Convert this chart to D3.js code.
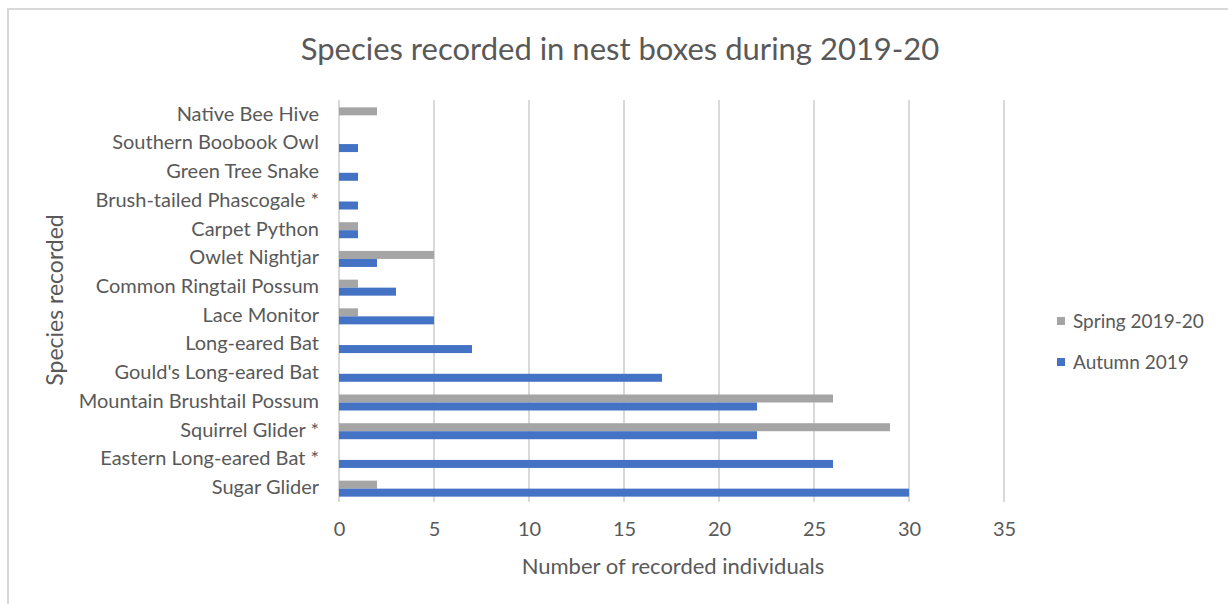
<!DOCTYPE html>
<html>
<head>
<meta charset="utf-8">
<script src="https://cdn.jsdelivr.net/npm/d3@7"></script>
<style>
  html, body { margin: 0; padding: 0; background: #fff; }
  svg { display: block; }
  text { font-family: Lato, "Open Sans", sans-serif; fill: #595959; }
</style>
</head>
<body>
<svg id="chart" width="1228" height="604"></svg>
<script>
// Species, listed top to bottom as they appear on the chart
const species = [
  "Native Bee Hive",
  "Southern Boobook Owl",
  "Green Tree Snake",
  "Brush-tailed Phascogale *",
  "Carpet Python",
  "Owlet Nightjar",
  "Common Ringtail Possum",
  "Lace Monitor",
  "Long-eared Bat",
  "Gould's Long-eared Bat",
  "Mountain Brushtail Possum",
  "Squirrel Glider *",
  "Eastern Long-eared Bat *",
  "Sugar Glider"
];
const spring = [2, 0, 0, 0, 1, 5, 1, 1, 0, 0, 26, 29, 0, 2];
const autumn = [0, 1, 1, 1, 1, 2, 3, 5, 7, 17, 22, 22, 26, 30];
const seriesNames = ["Spring 2019-20", "Autumn 2019"];
const seriesColors = ["#A5A5A5", "#4472C4"];
const xTicks = [0, 5, 10, 15, 20, 25, 30, 35];

const svg = d3.select("#chart");

// Outer frame (top and left edges visible)
svg.append("line").attr("x1", 8).attr("x2", 1228).attr("y1", 9).attr("y2", 9)
  .attr("stroke", "#d9d9d9").attr("stroke-width", 2);
svg.append("line").attr("x1", 8).attr("x2", 8).attr("y1", 8).attr("y2", 604)
  .attr("stroke", "#d9d9d9").attr("stroke-width", 2);

const plot = { left: 339, right: 1004, top: 100, bottom: 502 };

const x = d3.scaleLinear().domain([0, 35]).range([plot.left, plot.right]);
const y = d3.scaleBand().domain(species).range([plot.top, plot.bottom]).paddingInner(0).paddingOuter(0);
const inner = d3.scaleBand().domain(seriesNames).range([0, 16]);

// Vertical gridlines
svg.append("g").selectAll("line").data(xTicks).join("line")
  .attr("x1", d => x(d)).attr("x2", d => x(d))
  .attr("y1", plot.top).attr("y2", plot.bottom)
  .attr("stroke", "#d9d9d9").attr("stroke-width", 2);

// Bars
const rows = species.map((s, i) => ({ s, vals: [spring[i], autumn[i]] }));
const groups = svg.append("g").selectAll("g").data(rows).join("g")
  .attr("transform", d => `translate(0,${y(d.s) + y.bandwidth() / 2 - 7})`);
groups.selectAll("rect")
  .data(d => d.vals.map((v, k) => ({ v, k })).filter(e => e.v > 0))
  .join("rect")
  .attr("x", x(0))
  .attr("y", e => inner(seriesNames[e.k]))
  .attr("width", e => x(e.v) - x(0))
  .attr("height", inner.bandwidth())
  .attr("fill", e => seriesColors[e.k]);

// Y axis (category labels)
const yAxis = d3.axisLeft(y).tickSize(0).tickPadding(20);
const gy = svg.append("g").attr("transform", `translate(${plot.left},0)`).call(yAxis);
gy.select(".domain").remove();
gy.selectAll("text").style("font-size", "20px").attr("fill", "#595959")
  .style("font-family", "Lato, sans-serif");

// X axis (tick labels)
const xAxis = d3.axisBottom(x).tickValues(xTicks).tickSize(0).tickPadding(20);
const gx = svg.append("g").attr("transform", `translate(0,${plot.bottom})`).call(xAxis);
gx.select(".domain").remove();
gx.selectAll("text").style("font-size", "20px").attr("fill", "#595959")
  .style("font-family", "Lato, sans-serif");

// Titles
svg.append("text").attr("x", 620).attr("y", 60).attr("text-anchor", "middle")
  .style("font-size", "31px").text("Species recorded in nest boxes during 2019-20");
svg.append("text").attr("x", 673).attr("y", 574).attr("text-anchor", "middle")
  .style("font-size", "22px").text("Number of recorded individuals");
svg.append("text").attr("transform", "translate(63,300) rotate(-90)").attr("text-anchor", "middle")
  .style("font-size", "23px").text("Species recorded");

// Legend
const legend = svg.append("g").selectAll("g").data(seriesNames).join("g")
  .attr("transform", (d, i) => `translate(1057,${321 + i * 41})`);
legend.append("rect").attr("x", 0).attr("y", -4).attr("width", 8).attr("height", 8)
  .attr("fill", (d, i) => seriesColors[i]);
legend.append("text").attr("x", 16).attr("y", 7).style("font-size", "19px").text(d => d);
</script>
</body>
</html>
